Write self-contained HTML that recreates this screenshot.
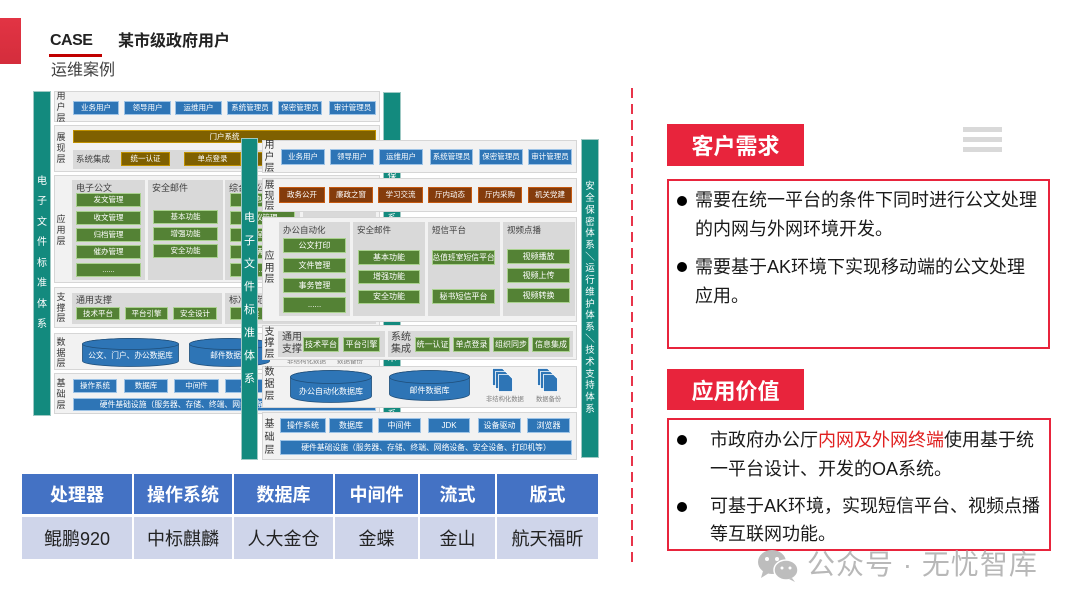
<!DOCTYPE html>
<html><head><meta charset="utf-8">
<style>
*{margin:0;padding:0;box-sizing:border-box}
body{width:1080px;height:608px;background:#fff;position:relative;overflow:hidden;font-family:"Liberation Sans","Noto Sans CJK SC",sans-serif}
.a{position:absolute}
.b{position:absolute;display:flex;align-items:center;justify-content:center;color:#fff;font-size:7.5px;white-space:nowrap;overflow:hidden;line-height:1}
.bl{background:#2e75b6;border:1px solid #9dc3e6}
.gr{background:#548235;border:1px solid #a9d18e}
.br{background:#843c0c;border:1px solid #c55a11}
.ol{background:#7f6000;border:1px solid #bf9000}
.p{position:absolute;background:#f2f2f2;border:1px solid #d6d6d6}
.s{position:absolute;background:#d9d9d9}
.t{position:absolute;background:#138a7e;color:#fff;text-align:center;display:flex;justify-content:center;align-items:center;border:1px solid #9fc9c4}
.l{position:absolute;font-size:9px;color:#333;line-height:11px;width:12px;text-align:center}
.lf{position:absolute;font-size:10px;color:#333;line-height:11.5px;width:13px;text-align:center}
.tt{position:absolute;font-size:8.5px;color:#404040;white-space:nowrap;line-height:1}
.th{position:absolute;top:474px;height:40px;background:#4472c4;color:#fff;font-weight:bold;font-size:18px;display:flex;align-items:center;justify-content:center}
.td{position:absolute;top:517px;height:42px;background:#cfd5ea;color:#222;font-size:18px;display:flex;align-items:center;justify-content:center}
.dot{position:absolute;width:10px;height:10px;border-radius:50%;background:#000}
.tx{position:absolute;font-size:18px;color:#1a1a1a;white-space:nowrap}
</style></head><body>

<!-- header -->
<div class="a" style="left:0;top:18px;width:21px;height:46px;background:linear-gradient(#e23444,#d42d3c)"></div>
<div class="a" style="left:50px;top:31px;font-size:16px;line-height:20px;font-weight:bold;color:#222;letter-spacing:-0.5px">CASE</div>
<div class="a" style="left:49px;top:54px;width:53px;height:3px;background:#c00000"></div>
<div class="a" style="left:118px;top:32px;font-size:16px;line-height:20px;font-weight:bold;color:#222">某市级政府用户</div>
<div class="a" style="left:51px;top:61px;font-size:16px;line-height:20px;color:#404040">运维案例</div>

<!-- ============ BACK DIAGRAM ============ -->
<div class="t" style="left:33px;top:91px;width:18px;height:325px;font-size:10px;line-height:20.5px">电<br>子<br>文<br>件<br>标<br>准<br>体<br>系</div>
<div class="t" style="left:383px;top:92px;width:18px;height:324px;font-size:9px;line-height:14px;align-items:flex-start;padding-top:48px">安<br>全<br>保<br>密<br>体<br>系<br>＼<br>运<br>行<br>维<br>护<br>体<br>系<br>＼<br>技<br>术<br>支<br>持<br>体<br>系</div>

<!-- 用户层 -->
<div class="p" style="left:54px;top:91px;width:326px;height:31px"></div>
<div class="l" style="left:55px;top:91px">用<br>户<br>层</div>
<div class="b bl" style="left:73px;top:101px;width:46px;height:14px">业务用户</div>
<div class="b bl" style="left:124px;top:101px;width:47px;height:14px">领导用户</div>
<div class="b bl" style="left:175px;top:101px;width:47px;height:14px">运维用户</div>
<div class="b bl" style="left:227px;top:101px;width:46px;height:14px">系统管理员</div>
<div class="b bl" style="left:278px;top:101px;width:44px;height:14px">保密管理员</div>
<div class="b bl" style="left:329px;top:101px;width:47px;height:14px">审计管理员</div>

<!-- 展现层 -->
<div class="p" style="left:54px;top:125px;width:326px;height:47px"></div>
<div class="l" style="left:55px;top:132px">展<br>现<br>层</div>
<div class="b ol" style="left:73px;top:130px;width:303px;height:13px">门户系统</div>
<div class="s" style="left:73px;top:150px;width:303px;height:19px"></div>
<div class="tt" style="left:76px;top:155px">系统集成</div>
<div class="b ol" style="left:121px;top:152px;width:49px;height:14px">统一认证</div>
<div class="b ol" style="left:184px;top:152px;width:57px;height:14px">单点登录</div>
<div class="b ol" style="left:254px;top:152px;width:55px;height:14px">组织同步</div>
<div class="b ol" style="left:322px;top:152px;width:54px;height:14px">信息集成</div>

<!-- 应用层 -->
<div class="p" style="left:54px;top:175px;width:326px;height:108px"></div>
<div class="l" style="left:55px;top:214px">应<br>用<br>层</div>
<div class="s" style="left:72px;top:180px;width:73px;height:100px"></div>
<div class="s" style="left:148px;top:180px;width:75px;height:100px"></div>
<div class="s" style="left:225px;top:180px;width:75px;height:100px"></div>
<div class="s" style="left:303px;top:180px;width:73px;height:100px"></div>
<div class="tt" style="left:76px;top:184px;font-size:9px">电子公文</div>
<div class="tt" style="left:152px;top:184px;font-size:9px">安全邮件</div>
<div class="tt" style="left:229px;top:184px;font-size:9px">综合办公</div>
<div class="b gr" style="left:76px;top:193px;width:65px;height:14px">发文管理</div>
<div class="b gr" style="left:76px;top:211px;width:65px;height:14px">收文管理</div>
<div class="b gr" style="left:76px;top:228px;width:65px;height:14px">归档管理</div>
<div class="b gr" style="left:76px;top:245px;width:65px;height:14px">催办管理</div>
<div class="b gr" style="left:76px;top:263px;width:65px;height:14px">......</div>
<div class="b gr" style="left:153px;top:210px;width:65px;height:14px">基本功能</div>
<div class="b gr" style="left:153px;top:227px;width:65px;height:14px">增强功能</div>
<div class="b gr" style="left:153px;top:244px;width:65px;height:14px">安全功能</div>
<div class="b gr" style="left:230px;top:193px;width:65px;height:14px">信息发布</div>
<div class="b gr" style="left:230px;top:211px;width:65px;height:14px">会议管理</div>
<div class="b gr" style="left:230px;top:228px;width:65px;height:14px">日程管理</div>
<div class="b gr" style="left:230px;top:245px;width:65px;height:14px">车辆管理</div>
<div class="b gr" style="left:230px;top:263px;width:65px;height:14px">......</div>

<!-- 支撑层 -->
<div class="p" style="left:54px;top:287px;width:326px;height:41px"></div>
<div class="l" style="left:55px;top:292px;line-height:10.5px">支<br>撑<br>层</div>
<div class="s" style="left:72px;top:293px;width:150px;height:31px"></div>
<div class="tt" style="left:76px;top:296px;font-size:9px">通用支撑</div>
<div class="b gr" style="left:76px;top:307px;width:44px;height:13px">技术平台</div>
<div class="b gr" style="left:125px;top:307px;width:43px;height:13px">平台引擎</div>
<div class="b gr" style="left:173px;top:307px;width:44px;height:13px">安全设计</div>
<div class="s" style="left:225px;top:293px;width:151px;height:31px"></div>
<div class="tt" style="left:229px;top:296px;font-size:9px">标准规范</div>
<div class="b gr" style="left:230px;top:307px;width:44px;height:13px">标准</div>

<!-- 数据层 -->
<div class="p" style="left:54px;top:333px;width:326px;height:37px"></div>
<div class="l" style="left:55px;top:337px;line-height:10.5px">数<br>据<br>层</div>
<svg class="a" style="left:82px;top:338px" width="97" height="29" viewBox="0 0 97 29"><path d="M0.5,6 A48,5.5 0 0 1 96.5,6 L96.5,23 A48,5.5 0 0 1 0.5,23 Z" fill="#2e75b6" stroke="#1f4e79" stroke-width="0.8"/><ellipse cx="48.5" cy="6" rx="48" ry="5.5" fill="#2e75b6" stroke="#1f4e79" stroke-width="0.8"/><text x="48.5" y="20" font-size="7.7" fill="#fff" text-anchor="middle" font-family="Liberation Sans, Noto Sans CJK SC, sans-serif">公文、门户、办公数据库</text></svg>
<svg class="a" style="left:189px;top:338px" width="81" height="29" viewBox="0 0 81 29"><path d="M0.5,6 A40,5.5 0 0 1 80.5,6 L80.5,23 A40,5.5 0 0 1 0.5,23 Z" fill="#2e75b6" stroke="#1f4e79" stroke-width="0.8"/><ellipse cx="40.5" cy="6" rx="40" ry="5.5" fill="#2e75b6" stroke="#1f4e79" stroke-width="0.8"/><text x="40.5" y="20" font-size="7.7" fill="#fff" text-anchor="middle" font-family="Liberation Sans, Noto Sans CJK SC, sans-serif">邮件数据库</text></svg>
<div class="tt" style="left:287px;top:359px;font-size:6.5px;color:#7f7f7f">非结构化数据</div>
<div class="tt" style="left:337px;top:359px;font-size:6.5px;color:#7f7f7f">数据备份</div>

<!-- 基础层 -->
<div class="p" style="left:54px;top:373px;width:326px;height:41px"></div>
<div class="l" style="left:55px;top:378px;line-height:11px">基<br>础<br>层</div>
<div class="b bl" style="left:73px;top:379px;width:44px;height:14px">操作系统</div>
<div class="b bl" style="left:124px;top:379px;width:44px;height:14px">数据库</div>
<div class="b bl" style="left:174px;top:379px;width:45px;height:14px">中间件</div>
<div class="b bl" style="left:225px;top:379px;width:45px;height:14px">JDK</div>
<div class="b bl" style="left:276px;top:379px;width:45px;height:14px">设备驱动</div>
<div class="b bl" style="left:327px;top:379px;width:45px;height:14px">浏览器</div>
<div class="b bl" style="left:73px;top:398px;width:303px;height:13px;font-size:7.8px">硬件基础设施（服务器、存储、终端、网络设备、安全设备、打印机等）</div>

<!-- ============ FRONT DIAGRAM ============ -->
<div class="t" style="left:241px;top:138px;width:17px;height:322px;font-size:11px;line-height:23px">电<br>子<br>文<br>件<br>标<br>准<br>体<br>系</div>
<div class="t" style="left:581px;top:139px;width:18px;height:319px;font-size:9.5px;line-height:11.7px">安<br>全<br>保<br>密<br>体<br>系<br>＼<br>运<br>行<br>维<br>护<br>体<br>系<br>＼<br>技<br>术<br>支<br>持<br>体<br>系</div>

<!-- 用户层 -->
<div class="p" style="left:262px;top:140px;width:315px;height:33px"></div>
<div class="lf" style="left:263px;top:140px">用<br>户<br>层</div>
<div class="b bl" style="left:281px;top:149px;width:44px;height:16px">业务用户</div>
<div class="b bl" style="left:330px;top:149px;width:44px;height:16px">领导用户</div>
<div class="b bl" style="left:379px;top:149px;width:44px;height:16px">运维用户</div>
<div class="b bl" style="left:430px;top:149px;width:43px;height:16px">系统管理员</div>
<div class="b bl" style="left:479px;top:149px;width:44px;height:16px">保密管理员</div>
<div class="b bl" style="left:528px;top:149px;width:44px;height:16px">审计管理员</div>

<!-- 展现层 -->
<div class="p" style="left:262px;top:178px;width:315px;height:34px"></div>
<div class="lf" style="left:263px;top:181px;line-height:10.5px">展<br>现<br>层</div>
<div class="b br" style="left:279px;top:187px;width:46px;height:16px">政务公开</div>
<div class="b br" style="left:329px;top:187px;width:44px;height:16px">廉政之窗</div>
<div class="b br" style="left:378px;top:187px;width:45px;height:16px">学习交流</div>
<div class="b br" style="left:428px;top:187px;width:44px;height:16px">厅内动态</div>
<div class="b br" style="left:478px;top:187px;width:44px;height:16px">厅内采购</div>
<div class="b br" style="left:528px;top:187px;width:44px;height:16px">机关党建</div>

<!-- 应用层 -->
<div class="p" style="left:262px;top:217px;width:315px;height:105px"></div>
<div class="lf" style="left:263px;top:251px">应<br>用<br>层</div>
<div class="s" style="left:279px;top:222px;width:71px;height:94px"></div>
<div class="s" style="left:353px;top:222px;width:72px;height:94px"></div>
<div class="s" style="left:428px;top:222px;width:72px;height:94px"></div>
<div class="s" style="left:503px;top:222px;width:72px;height:94px"></div>
<div class="tt" style="left:283px;top:226px">办公自动化</div>
<div class="tt" style="left:357px;top:226px">安全邮件</div>
<div class="tt" style="left:432px;top:226px">短信平台</div>
<div class="tt" style="left:507px;top:226px">视频点播</div>
<div class="b gr" style="left:283px;top:238px;width:63px;height:15px;font-size:8px">公文打印</div>
<div class="b gr" style="left:283px;top:258px;width:63px;height:15px;font-size:8px">文件管理</div>
<div class="b gr" style="left:283px;top:278px;width:63px;height:15px;font-size:8px">事务管理</div>
<div class="b gr" style="left:283px;top:297px;width:63px;height:16px;font-size:8px">......</div>
<div class="b gr" style="left:358px;top:250px;width:62px;height:15px;font-size:8px">基本功能</div>
<div class="b gr" style="left:358px;top:270px;width:62px;height:14px;font-size:8px">增强功能</div>
<div class="b gr" style="left:358px;top:290px;width:62px;height:14px;font-size:8px">安全功能</div>
<div class="b gr" style="left:432px;top:250px;width:63px;height:15px;font-size:7.8px">总值班室短信平台</div>
<div class="b gr" style="left:432px;top:289px;width:63px;height:15px;font-size:8px">秘书短信平台</div>
<div class="b gr" style="left:507px;top:249px;width:63px;height:15px;font-size:8px">视频播放</div>
<div class="b gr" style="left:507px;top:268px;width:63px;height:15px;font-size:8px">视频上传</div>
<div class="b gr" style="left:507px;top:288px;width:63px;height:15px;font-size:8px">视频转换</div>

<!-- 支撑层 -->
<div class="p" style="left:262px;top:325px;width:315px;height:35px"></div>
<div class="lf" style="left:263px;top:327px;line-height:11px">支<br>撑<br>层</div>
<div class="s" style="left:278px;top:331px;width:107px;height:26px"></div>
<div class="tt" style="left:282px;top:332px;font-size:10px;line-height:12px;white-space:normal;width:22px">通用<br>支撑</div>
<div class="b gr" style="left:303px;top:337px;width:36px;height:15px;font-size:8px">技术平台</div>
<div class="b gr" style="left:343px;top:337px;width:37px;height:15px;font-size:8px">平台引擎</div>
<div class="s" style="left:388px;top:331px;width:185px;height:26px"></div>
<div class="tt" style="left:391px;top:332px;font-size:10px;line-height:12px;white-space:normal;width:22px">系统<br>集成</div>
<div class="b gr" style="left:415px;top:337px;width:35px;height:15px;font-size:8px">统一认证</div>
<div class="b gr" style="left:453px;top:337px;width:37px;height:15px;font-size:8px">单点登录</div>
<div class="b gr" style="left:493px;top:337px;width:36px;height:15px;font-size:8px">组织同步</div>
<div class="b gr" style="left:532px;top:337px;width:38px;height:15px;font-size:8px">信息集成</div>

<!-- 数据层 -->
<div class="p" style="left:262px;top:366px;width:315px;height:42px"></div>
<div class="lf" style="left:263px;top:367px;line-height:12px">数<br>据<br>层</div>
<svg class="a" style="left:290px;top:370px" width="82" height="33" viewBox="0 0 82 33"><path d="M0.5,7 A40.5,6.5 0 0 1 81.5,7 L81.5,26 A40.5,6.5 0 0 1 0.5,26 Z" fill="#2e75b6" stroke="#1f4e79" stroke-width="0.8"/><ellipse cx="41" cy="7" rx="40.5" ry="6.5" fill="#2e75b6" stroke="#1f4e79" stroke-width="0.8"/><text x="41" y="24" font-size="8" fill="#fff" text-anchor="middle" font-family="Liberation Sans, Noto Sans CJK SC, sans-serif">办公自动化数据库</text></svg>
<svg class="a" style="left:389px;top:370px" width="81" height="31" viewBox="0 0 81 31"><path d="M0.5,7 A40,6.5 0 0 1 80.5,7 L80.5,24 A40,6.5 0 0 1 0.5,24 Z" fill="#2e75b6" stroke="#1f4e79" stroke-width="0.8"/><ellipse cx="40.5" cy="7" rx="40" ry="6.5" fill="#2e75b6" stroke="#1f4e79" stroke-width="0.8"/><text x="40.5" y="23" font-size="8" fill="#fff" text-anchor="middle" font-family="Liberation Sans, Noto Sans CJK SC, sans-serif">邮件数据库</text></svg>
<svg class="a" style="left:492px;top:368px" width="22" height="25" viewBox="0 0 22 25"><g fill="#2e75b6" stroke="#fff" stroke-width="0.8"><path d="M0.5,0.5 h10 l4,4 v13 h-14 z"/><path d="M3.5,3.5 h10 l4,4 v13 h-14 z"/><path d="M6.5,6.5 h10 l4,4 v13 h-14 z"/></g></svg>
<svg class="a" style="left:537px;top:368px" width="22" height="25" viewBox="0 0 22 25"><g fill="#2e75b6" stroke="#fff" stroke-width="0.8"><path d="M0.5,0.5 h10 l4,4 v13 h-14 z"/><path d="M3.5,3.5 h10 l4,4 v13 h-14 z"/><path d="M6.5,6.5 h10 l4,4 v13 h-14 z"/></g></svg>
<div class="tt" style="left:486px;top:397px;font-size:6.3px;color:#7f7f7f">非结构化数据</div>
<div class="tt" style="left:536px;top:397px;font-size:6.3px;color:#7f7f7f">数据备份</div>

<!-- 基础层 -->
<div class="p" style="left:262px;top:412px;width:315px;height:48px"></div>
<div class="lf" style="left:263px;top:418px;line-height:13px">基<br>础<br>层</div>
<div class="b bl" style="left:280px;top:418px;width:46px;height:15px;font-size:8px">操作系统</div>
<div class="b bl" style="left:329px;top:418px;width:44px;height:15px;font-size:8px">数据库</div>
<div class="b bl" style="left:378px;top:418px;width:43px;height:15px;font-size:8px">中间件</div>
<div class="b bl" style="left:428px;top:418px;width:42px;height:15px;font-size:8px">JDK</div>
<div class="b bl" style="left:478px;top:418px;width:43px;height:15px;font-size:8px">设备驱动</div>
<div class="b bl" style="left:527px;top:418px;width:43px;height:15px;font-size:8px">浏览器</div>
<div class="b bl" style="left:280px;top:440px;width:292px;height:15px;font-size:7.8px">硬件基础设施（服务器、存储、终端、网络设备、安全设备、打印机等）</div>

<!-- ============ TABLE ============ -->
<div class="th" style="left:22px;width:110px">处理器</div>
<div class="th" style="left:134px;width:98px">操作系统</div>
<div class="th" style="left:234px;width:99px">数据库</div>
<div class="th" style="left:335px;width:83px">中间件</div>
<div class="th" style="left:420px;width:75px">流式</div>
<div class="th" style="left:497px;width:101px">版式</div>
<div class="td" style="left:22px;width:110px">鲲鹏920</div>
<div class="td" style="left:134px;width:98px">中标麒麟</div>
<div class="td" style="left:234px;width:99px">人大金仓</div>
<div class="td" style="left:335px;width:83px">金蝶</div>
<div class="td" style="left:420px;width:75px">金山</div>
<div class="td" style="left:497px;width:101px">航天福昕</div>

<!-- ============ RIGHT ============ -->
<svg class="a" style="left:630px;top:88px" width="4" height="476"><line x1="2" y1="0" x2="2" y2="476" stroke="#e8344a" stroke-width="2" stroke-dasharray="10 6"/></svg>

<div class="a" style="left:667px;top:124px;width:137px;height:42px;background:#e8243c;color:#fff;font-weight:bold;font-size:22px;display:flex;align-items:center;justify-content:center">客户需求</div>
<div class="a" style="left:963px;top:127px;width:39px;height:5px;background:#d9d9d9"></div>
<div class="a" style="left:963px;top:137px;width:39px;height:5px;background:#d9d9d9"></div>
<div class="a" style="left:963px;top:147px;width:39px;height:5px;background:#d9d9d9"></div>

<div class="a" style="left:667px;top:179px;width:383px;height:170px;border:2px solid #e8243c"></div>
<div class="dot" style="left:677px;top:196px"></div>
<div class="tx" style="left:695px;top:186px;line-height:29px">需要在统一平台的条件下同时进行公文处理<br>的内网与外网环境开发。</div>
<div class="dot" style="left:677px;top:262px"></div>
<div class="tx" style="left:695px;top:253px;line-height:29px">需要基于AK环境下实现移动端的公文处理<br>应用。</div>

<div class="a" style="left:667px;top:369px;width:137px;height:41px;background:#e8243c;color:#fff;font-weight:bold;font-size:22px;display:flex;align-items:center;justify-content:center">应用价值</div>

<div class="a" style="left:667px;top:418px;width:384px;height:133px;border:2px solid #e8243c"></div>
<div class="dot" style="left:677px;top:435px"></div>
<div class="tx" style="left:710px;top:426px;line-height:29px">市政府办公厅<span style="color:#e02020">内网及外网终端</span>使用基于统<br>一平台设计、开发的OA系统。</div>
<div class="dot" style="left:677px;top:502px"></div>
<div class="tx" style="left:710px;top:492px;line-height:28px">可基于AK环境，实现短信平台、视频点播<br>等互联网功能。</div>

<!-- watermark -->
<svg class="a" style="left:757px;top:549px" width="44" height="34" viewBox="0 0 44 34"><ellipse cx="15" cy="13" rx="14" ry="12" fill="#bdbdbd"/><path d="M6,22 L4,29 L12,24 Z" fill="#bdbdbd"/><ellipse cx="29" cy="21" rx="12" ry="10" fill="#bdbdbd" stroke="#fff" stroke-width="1.5"/><path d="M35,29 L38,33 L32,30 Z" fill="#bdbdbd"/><circle cx="10" cy="10" r="2" fill="#fff"/><circle cx="20" cy="10" r="2" fill="#fff"/><circle cx="25" cy="19" r="1.5" fill="#fff"/><circle cx="33" cy="19" r="1.5" fill="#fff"/></svg>
<div class="a" style="left:807px;top:548px;font-size:28px;line-height:34px;color:#b8b8b8;white-space:nowrap;letter-spacing:1px">公众号 · 无忧智库</div>

</body></html>
